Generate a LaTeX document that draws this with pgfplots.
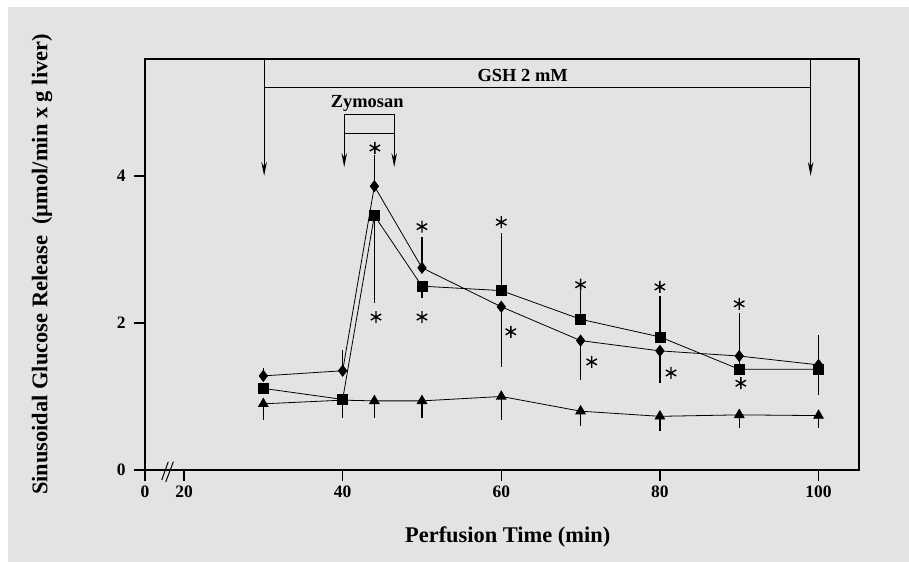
\documentclass[border=0pt]{standalone}
\usepackage{pgfplots}
\pgfplotsset{compat=1.18}
\usepackage{pgfplotstable}
\usepackage{fontspec}
\setmainfont{Liberation Serif}
\usetikzlibrary{arrows.meta}
\definecolor{bg}{HTML}{E3E3E3}

\pgfplotstableread{
x y ep em
30 1.28 0.11 0
40 1.35 0.28 0
44 3.86 0.42 0
50 2.75 0.42 0
60 2.22 0 0.82
70 1.76 0 0.54
80 1.62 0 0.43
90 1.55 0.59 0
100 1.43 0.41 0
}\diam

\pgfplotstableread{
x y ep em
30 1.11 0 0
40 0.96 0 0
44 3.46 0 1.19
50 2.50 0 0.16
60 2.44 0.78 0
70 2.05 0.38 0
80 1.81 0.55 0
90 1.37 0.60 0
100 1.37 0 0.35
}\sq

\pgfplotstableread{
x y ep em
30 0.90 0 0.22
40 0.95 0 0.24
44 0.94 0 0.23
50 0.94 0 0.23
60 1.00 0 0.32
70 0.80 0 0.20
80 0.73 0 0.20
90 0.75 0 0.18
100 0.74 0 0.17
}\tri

\pgfplotstableread{
x y
44.07 4.38
44.2 2.08
50 3.31
50 2.08
60 3.37
61.2 1.88
70 2.52
71.4 1.47
80 2.49
81.4 1.32
90 2.26
90.2 1.18
}\stars

\begin{document}
\begin{tikzpicture}
\useasboundingbox (-145bp,-92bp) rectangle (764bp,470bp);
\fill[white] (-145bp,-92bp) rectangle (764bp,470bp);
\fill[bg] (-137bp,-92bp) rectangle (764bp,463bp);
\begin{axis}[
  at={(0,0)}, anchor=south west,
  scale only axis, width=714bp, height=411bp,
  xmin=15.08, xmax=105.1, ymin=0, ymax=5.59,
  clip=false,
  axis line style={line width=1.3bp},
  xtick={15.08,20,40,60,80,100},
  xticklabels={0,20,40,60,80,100},
  ytick={0,2,4},
  tick align=outside,
  xtick pos=bottom, ytick pos=left,
  major tick length=11bp,
  tick style={line width=1.3bp, black},
  /pgf/number format/assume math mode=true,
  ticklabel style={font=\bfseries\fontsize{17.5}{20}\selectfont},
  yticklabel style={xshift=-5bp},
  xticklabel style={yshift=-1bp},
  label style={font=\bfseries\fontsize{22.5}{25}\selectfont},
  xlabel={Perfusion Time (min)},
  ylabel={Sinusoidal Glucose Release\ \ (µmol/min x g liver)},
  xlabel style={at={(axis description cs:0.508,-0.163)}, anchor=center},
  ylabel style={at={(axis description cs:-0.144,0.5)}, anchor=center},
  error bars/y dir=both,
  error bars/y explicit,
  error bars/error mark=none,
  error bars/error bar style={line width=1.2bp, black},
]
% GSH annotation
\draw[line width=1bp] (axis cs:30.1,5.20) -- (axis cs:99.0,5.20);
\draw[line width=1bp, -{Stealth[length=14bp,width=5.5bp]}] (axis cs:30.1,5.59) -- (axis cs:30.1,4.0);
\draw[line width=1bp, -{Stealth[length=14bp,width=5.5bp]}] (axis cs:99.0,5.59) -- (axis cs:99.0,4.0);
\node[font=\bfseries\fontsize{18.5}{21}\selectfont] at (axis cs:62.7,5.36) {GSH 2 mM};
% Zymosan annotation
\draw[line width=1bp] (axis cs:40.2,4.57) rectangle (axis cs:46.5,4.83);
\draw[line width=1bp, -{Stealth[length=14bp,width=5.5bp]}] (axis cs:40.2,4.57) -- (axis cs:40.2,4.12);
\draw[line width=1bp, -{Stealth[length=14bp,width=5.5bp]}] (axis cs:46.5,4.57) -- (axis cs:46.5,4.12);
\node[font=\bfseries\fontsize{18.5}{21}\selectfont] at (axis cs:43.1,4.99) {Zymosan};
% axis break
\draw[line width=1bp] (axis cs:17.19,-0.136) -- (axis cs:18.02,0.113);
\draw[line width=1bp] (axis cs:17.70,-0.16) -- (axis cs:18.66,0.113);

\addplot[black, line width=0.8bp, mark=triangle*, mark size=5.5bp,
  error bars/.cd, y explicit]
  table[x=x, y=y, y error plus=ep, y error minus=em] {\tri};
\addplot[black, line width=0.8bp, mark=diamond*, mark size=5.5bp,
  error bars/.cd, y explicit]
  table[x=x, y=y, y error plus=ep, y error minus=em] {\diam};
\addplot[black, line width=0.8bp, mark=square*, mark size=5bp,
  error bars/.cd, y explicit]
  table[x=x, y=y, y error plus=ep, y error minus=em] {\sq};
\addplot[only marks, black, mark=asterisk, mark size=6bp,
  mark options={line width=1.4bp}]
  table[x=x, y=y] {\stars};
\end{axis}
\end{tikzpicture}
\end{document}
